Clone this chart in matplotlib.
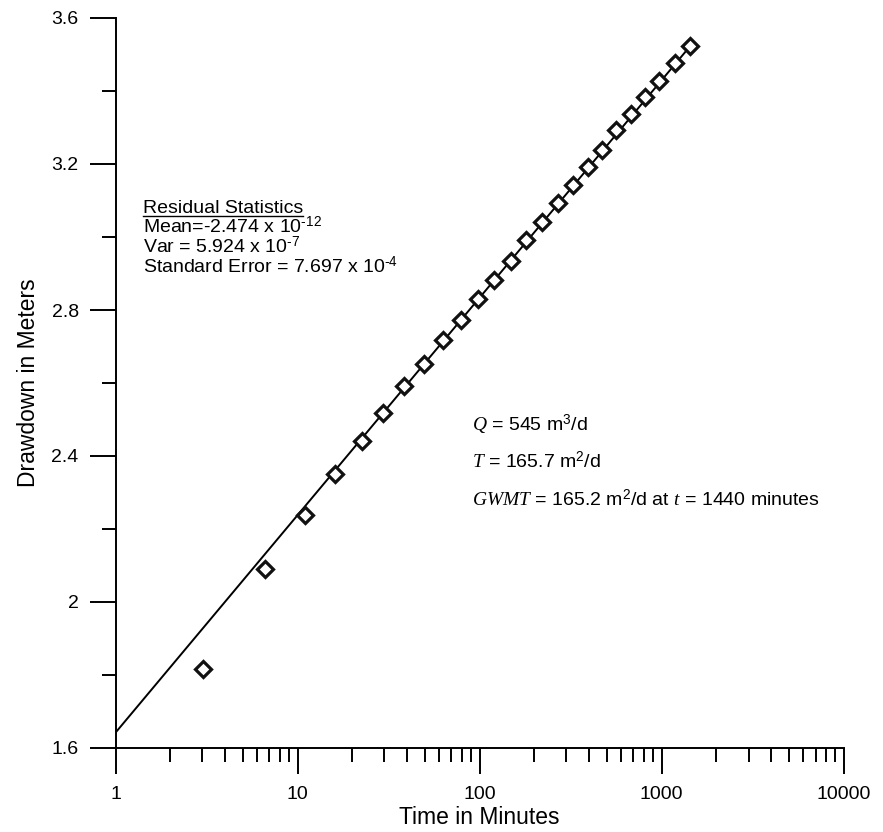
import matplotlib
matplotlib.use("Agg")
import matplotlib.pyplot as plt
from matplotlib.ticker import FixedLocator, LogLocator, NullFormatter
from matplotlib.lines import Line2D

plt.rcParams['font.family'] = ['Liberation Sans', 'DejaVu Sans']
plt.rcParams['mathtext.fontset'] = 'custom'
plt.rcParams['mathtext.rm'] = 'Liberation Sans'
plt.rcParams['mathtext.it'] = 'Liberation Serif:italic'
plt.rcParams['mathtext.bf'] = 'Liberation Sans:bold'

# ---- data ----
time_min = [3.04, 6.65, 11.0, 16.1, 22.5, 29.6, 38.5, 49.6, 63.2, 79.1, 97.7, 120.6,
            149, 180, 220, 268, 325, 393, 469, 562, 680, 811, 972, 1187, 1440]
drawdown = [1.817, 2.090, 2.239, 2.351, 2.440, 2.519, 2.592, 2.652, 2.718, 2.773,
            2.830, 2.882, 2.934, 2.992, 3.042, 3.092, 3.142, 3.192, 3.238, 3.293,
            3.337, 3.384, 3.427, 3.477, 3.524]
fit_x = [1, 1440]
fit_y = [1.642, 3.524]
y_ticks = [1.6, 2.0, 2.4, 2.8, 3.2, 3.6]
y_ticklabels = ["1.6", "2", "2.4", "2.8", "3.2", "3.6"]
y_minor = [1.8, 2.2, 2.6, 3.0, 3.4]
x_ticks = [1, 10, 100, 1000, 10000]
x_ticklabels = ["1", "10", "100", "1000", "10000"]

W, H = 883, 832
fig = plt.figure(figsize=(W / 100, H / 100), dpi=100)
left, right, top, bottom = 115.5, 843.7, 18, 748
ax = fig.add_axes([left / W, 1 - bottom / H, (right - left) / W, (bottom - top) / H])

ax.plot(fit_x, fit_y, color='black', lw=1.4, zorder=2)
ax.plot(time_min, drawdown, linestyle='none', marker='D', markersize=8.2,
        markerfacecolor='white', markeredgecolor='#111111', markeredgewidth=2.3, zorder=3)

ax.set_xscale('log')
ax.set_xlim(1, 10000)
ax.set_ylim(1.6, 3.6)
ax.set_xticks(x_ticks)
ax.set_xticklabels(x_ticklabels)
ax.xaxis.set_minor_locator(LogLocator(base=10, subs=range(2, 10)))
ax.xaxis.set_minor_formatter(NullFormatter())
ax.set_yticks(y_ticks)
ax.set_yticklabels(y_ticklabels)
ax.yaxis.set_minor_locator(FixedLocator(y_minor))

for s in ['top', 'right']:
    ax.spines[s].set_visible(False)
for s in ['left', 'bottom']:
    ax.spines[s].set_linewidth(1.4)

ax.tick_params(which='major', direction='out', length=18.5, width=1.4, labelsize=14,
               colors='black')
ax.tick_params(axis='y', which='major', pad=8)
ax.tick_params(axis='x', which='major', pad=9)
ax.tick_params(which='minor', direction='out', length=9.8, width=1.4)

ax.set_xlabel("Time in Minutes", fontsize=16.5, labelpad=2)
ax.set_ylabel("Drawdown in Meters", fontsize=16.5, labelpad=8)

def fx(px):
    return px / W

def fy(py):
    return 1 - py / H

fs = 14
t_res = fig.text(fx(143), fy(213), "Residual Statistics", fontsize=fs, va='baseline')
fig.text(fx(143), fy(233), r"Mean=-2.474 x 10$^{\text{-12}}$", fontsize=fs, va='baseline')
fig.text(fx(143), fy(253), r"Var = 5.924 x 10$^{\text{-7}}$", fontsize=fs, va='baseline')
fig.text(fx(143), fy(273), r"Standard Error = 7.697 x 10$^{\text{-4}}$", fontsize=fs, va='baseline')

fig.text(fx(472), fy(431), r"$Q$ = 545 m$^{3}$/d", fontsize=fs, va='baseline')
fig.text(fx(472), fy(468), r"$T$ = 165.7 m$^{2}$/d", fontsize=fs, va='baseline')
fig.text(fx(472), fy(506), r"$GWMT$ = 165.2 m$^{2}$/d at $t$ = 1440 minutes", fontsize=fs, va='baseline')

fig.canvas.draw()
bb = t_res.get_window_extent()
fig.add_artist(Line2D([bb.x0 / W, bb.x1 / W], [fy(215.5), fy(215.5)],
                      transform=fig.transFigure, color='black', lw=1.0))

fig.savefig("out.png", dpi=100)
